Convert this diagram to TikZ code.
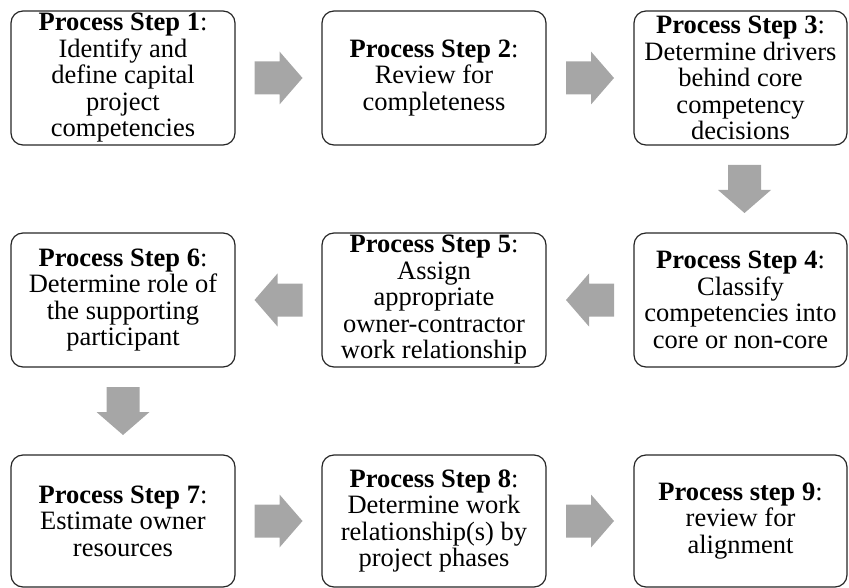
\documentclass[tikz,border=0pt]{standalone}
\usepackage{fontspec}
\setmainfont{Liberation Serif}
\usetikzlibrary{calc}
\definecolor{arrowgray}{HTML}{A6A6A6}
\definecolor{boxline}{HTML}{262626}
\begin{document}
\begin{tikzpicture}[x=1pt,y=-1pt,
  stepbox/.style={draw=boxline, line width=1.2pt, rounded corners=12pt,
    minimum width=224pt, minimum height=134pt, inner sep=0pt, align=center,
    font=\fontsize{26.5}{26.5}\selectfont},
  narrowbox/.style={stepbox, minimum width=213pt},
  flowarrow/.style={fill=arrowgray, draw=none}
]
\useasboundingbox (0,0) rectangle (849,588);

% first row
\node[stepbox] (s1) at (123,78) {\textbf{Process Step 1}:\\Identify and\\define capital\\project\\competencies};
\node[stepbox] (s2) at (434,78) {\textbf{Process Step 2}:\\Review for\\completeness};
\node[narrowbox] (s3) at (740.5,78) {\textbf{Process Step 3}:\\Determine drivers\\behind core\\competency\\decisions};

% second row
\node[narrowbox] (s4) at (740.5,300) {\textbf{Process Step 4}:\\Classify\\competencies into\\core or non-core};
\node[stepbox] (s5) at (434,300) {\textbf{Process Step 5}:\\Assign\\appropriate\\owner-contractor\\work relationship};
\node[stepbox] (s6) at (123,300) {\textbf{Process Step 6}:\\Determine role of\\the supporting\\participant};

% third row
\node[stepbox, minimum height=132pt] (s7) at (123,521) {\textbf{Process Step 7}:\\Estimate owner\\resources};
\node[stepbox, minimum height=132pt] (s8) at (434,521) {\textbf{Process Step 8}:\\Determine work\\relationship(s) by\\project phases};
\node[narrowbox, minimum height=132pt] (s9) at (740.5,521) {\textbf{Process step 9}:\\review for\\alignment};

% centres of the gaps between consecutive steps
\coordinate (m12) at ($(s1.east)!0.5!(s2.west)$);
\coordinate (m23) at ($(s2.east)!0.5!(s3.west)$);
\coordinate (m34) at ($(s3.south)!0.5!(s4.north)+(4,0)$);
\coordinate (m45) at ($(s4.west)!0.5!(s5.east)$);
\coordinate (m56) at ($(s5.west)!0.5!(s6.east)$);
\coordinate (m67) at ($(s6.south)!0.5!(s7.north)$);
\coordinate (m78) at ($(s7.east)!0.5!(s8.west)$);
\coordinate (m89) at ($(s8.east)!0.5!(s9.west)$);

% block arrow pointing along +x, placed and turned by the caller
\newcommand{\blockarrow}[2]{%
  \fill[flowarrow, shift={(#1)}, rotate=#2]
    (-24,-16.5) -- (1,-16.5) -- (1,-26.5) -- (24,0) -- (1,26.5) -- (1,16.5)
    -- (-24,16.5) -- cycle;}

\blockarrow{m12}{0}
\blockarrow{m23}{0}
\blockarrow{m34}{-90}
\blockarrow{m45}{180}
\blockarrow{m56}{180}
\blockarrow{m67}{-90}
\blockarrow{m78}{0}
\blockarrow{m89}{0}
\end{tikzpicture}
\end{document}
